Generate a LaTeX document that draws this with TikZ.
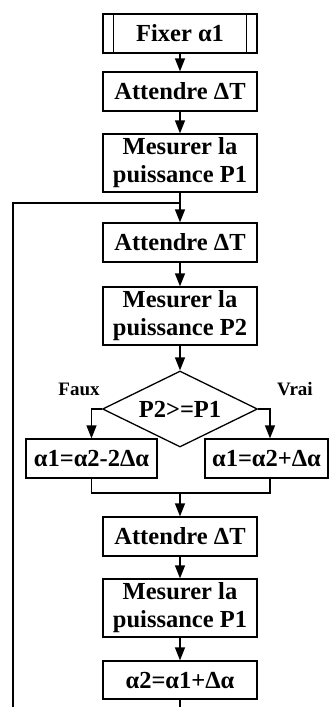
\documentclass[tikz,border=0pt]{standalone}
\usepackage{fontspec}
\setmainfont{Liberation Serif}
\usepackage{tikz}
\usetikzlibrary{arrows.meta, positioning, shapes.geometric, calc}

\begin{document}
\begin{tikzpicture}[
  x=1pt, y=-1pt,
  >={Triangle[length=13pt, width=10pt]},
  line width=1.3pt,
  font=\fontsize{24.5}{28}\selectfont\bfseries,
  flow/.style={->},
  connector/.style={-},
  stepbox/.style={draw, rectangle, inner sep=0pt, align=center, minimum width=154pt, minimum height=39pt},
  tallbox/.style={stepbox, minimum height=58pt},
  testbox/.style={draw, diamond, aspect=2, inner sep=0pt, minimum width=155pt, minimum height=76pt},
  branch/.style={font=\fontsize{19}{22}\selectfont\bfseries}
]
  \useasboundingbox (0,0) rectangle (329,707);

  \node[stepbox] (fix) at (180,33.5) {Fixer α1};
  \draw ([xshift=11pt]fix.north west) -- ([xshift=11pt]fix.south west);
  \draw ([xshift=-11pt]fix.north east) -- ([xshift=-11pt]fix.south east);

  \node[stepbox] (waitA) at (180,91.5) {Attendre ΔT};
  \node[tallbox] (measA) at (180,163) {Mesurer la\\puissance P1};
  \node[stepbox] (waitB) at (180,242.5) {Attendre ΔT};
  \node[tallbox] (measB) at (180,316) {Mesurer la\\puissance P2};
  \node[testbox] (test) at (180,409) {P2>=P1};

  \node[stepbox, minimum width=131pt] (down) at (91.5,458.5) {α1=α2-2Δα};
  \node[stepbox, minimum width=123pt] (up) at (266.5,458.5) {α1=α2+Δα};
  \node[branch] (faux) at (79,389) {Faux};
  \node[branch] (vrai) at (295,389) {Vrai};

  \node[stepbox] (waitC) at (180,536.5) {Attendre ΔT};
  \node[tallbox] (measC) at (180,608) {Mesurer la\\puissance P1};
  \node[stepbox, minimum height=38pt] (update) at (180,680) {α2=α1+Δα};

  \coordinate (merge) at (180,493);
  \coordinate (loopIn) at (180,203);
  \coordinate (loopEnd) at (13,707);
  \coordinate (outEnd) at (180,707);

  \draw[flow] (fix) -- (waitA);
  \draw[flow] (waitA) -- (measA);
  \draw[flow] (measA) -- (waitB);
  \draw[flow] (waitB) -- (measB);
  \draw[flow] (measB) -- (test);

  \draw[flow] (test.west) -| (down.north);
  \draw[flow] (test.east) -| ([xshift=3.5pt]up.north);
  \draw[connector] (down.south) |- (merge);
  \draw[connector] ([xshift=3.5pt]up.south) |- (merge);
  \draw[flow] (merge) -- (waitC);

  \draw[flow] (waitC) -- (measC);
  \draw[flow] (measC) -- (update);
  \draw[connector] (update) -- (outEnd);

  % retour vers la mesure
  \draw[connector] (loopEnd) |- (loopIn);
\end{tikzpicture}
\end{document}
